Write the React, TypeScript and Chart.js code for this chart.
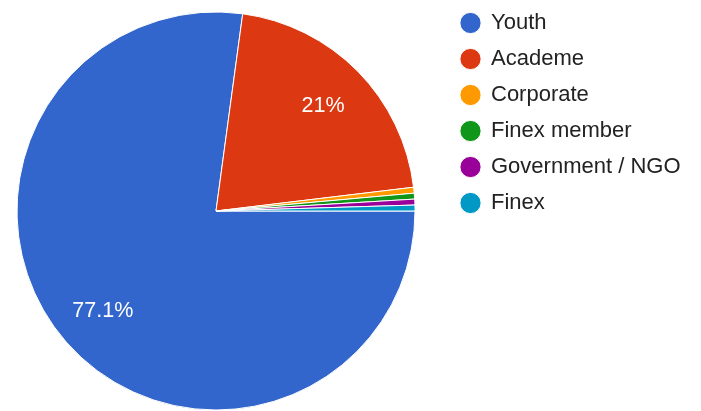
import React, { useEffect, useRef } from "react";
import { Chart, registerables } from "chart.js";

Chart.register(...registerables);

const categories = ["Youth", "Academe", "Corporate", "Finex member", "Government / NGO", "Finex"];
const responses = [162, 44, 1, 1, 1, 1];
const sliceColors = ["#3366cc", "#dc3912", "#ff9900", "#109618", "#990099", "#0099c6"];

const FONT = "'Liberation Sans', Arial, Helvetica, sans-serif";

const pctLabels = {
  id: "pctLabels",
  afterDatasetsDraw(chart: any) {
    const ctx = chart.ctx;
    const vals = chart.data.datasets[0].data as number[];
    const total = vals.reduce((a: number, b: number) => a + b, 0);
    const meta = chart.getDatasetMeta(0);
    ctx.save();
    ctx.font = `21.5px ${FONT}`;
    ctx.fillStyle = "#ffffff";
    ctx.textAlign = "center";
    ctx.textBaseline = "middle";
    meta.data.forEach((arc: any, i: number) => {
      const pct = (vals[i] / total) * 100;
      if (pct < 5) return;
      const { x, y, startAngle, endAngle, outerRadius } = arc.getProps(
        ["x", "y", "startAngle", "endAngle", "outerRadius"],
        true
      );
      const mid = (startAngle + endAngle) / 2;
      const r = outerRadius * 0.755;
      const txt = (Math.round(pct * 10) / 10).toString() + "%";
      ctx.fillText(txt, x + Math.cos(mid) * r, y + 1 + Math.sin(mid) * r);
    });
    ctx.restore();
  },
};

export default function App() {
  const ref = useRef<HTMLCanvasElement | null>(null);
  useEffect(() => {
    if (!ref.current) return;
    const chart = new Chart(ref.current, {
      type: "pie",
      data: {
        labels: categories,
        datasets: [
          {
            data: responses,
            backgroundColor: sliceColors,
            borderColor: "#ffffff",
            borderWidth: 1,
            radius: 199,
          } as any,
        ],
      },
      options: {
        responsive: false,
        animation: false,
        rotation: 90,
        layout: { padding: 0 },
        plugins: {
          legend: {
            position: "right",
            align: "start",
            maxWidth: 236,
            labels: {
              usePointStyle: true,
              pointStyle: "circle",
              boxWidth: 19,
              boxHeight: 15,
              padding: 14,
              color: "#222222",
              font: { family: FONT, size: 22 },
            },
          },
          tooltip: { enabled: false },
        },
      } as any,
      plugins: [pctLabels as any],
    });
    return () => chart.destroy();
  }, []);
  return (
    <div style={{ position: "fixed", left: -15, top: -2, width: 698, height: 426, background: "#fff" }}>
      <canvas ref={ref} width={698} height={426} style={{ display: "block" }} />
    </div>
  );
}
